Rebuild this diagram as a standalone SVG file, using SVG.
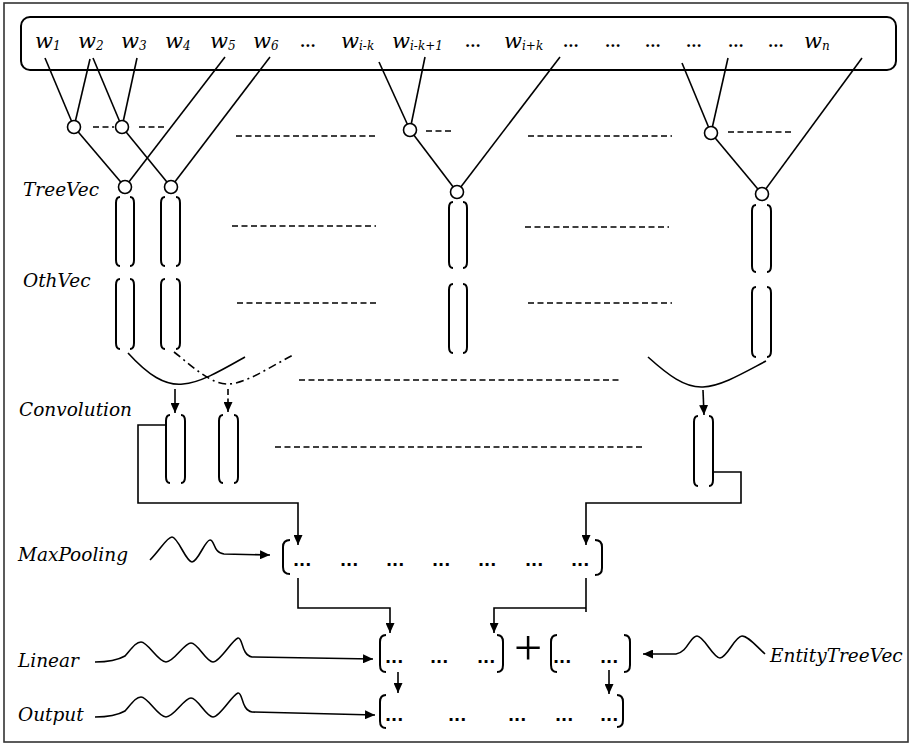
<svg xmlns="http://www.w3.org/2000/svg" width="910" height="746" viewBox="0 0 910 746">
<defs>
<style>
.ln{fill:none;stroke:#000;stroke-width:1.6}
.br{fill:none;stroke:#000;stroke-width:2}
.ds{fill:none;stroke:#000;stroke-width:1.6;stroke-dasharray:6 3.5}
.dd{fill:none;stroke:#000;stroke-width:1.6;stroke-dasharray:8 4 2 4}
.nd{fill:#fff;stroke:#000;stroke-width:1.6}
.lb{font-family:"DejaVu Serif",serif;font-style:italic;font-size:18.5px;fill:#000}
.w{font-family:"DejaVu Serif",serif;font-style:italic;font-size:21px;fill:#000}
.sub{font-size:12px}
.dt{font-family:"DejaVu Serif",serif;font-weight:bold;font-size:15px;fill:#000}
.bd{font-family:"DejaVu Sans",sans-serif;font-weight:bold;font-size:16px;fill:#000}
</style>
<marker id="ah" viewBox="0 0 10 9" refX="10" refY="4.5" markerWidth="10" markerHeight="9" markerUnits="userSpaceOnUse" orient="auto">
<path d="M0,0 L10,4.5 L0,9 z" fill="#000"/>
</marker>
</defs>
<rect x="4" y="3" width="904" height="739" fill="#fff" stroke="#333" stroke-width="1.6"/>

<g id="connectors">
<path class="ln" d="M45,58 L74,127"/>
<path class="ln" d="M90,59 L74,127"/>
<path class="ln" d="M93,58 L122,127"/>
<path class="ln" d="M137,58 L122,127"/>
<path class="ln" d="M225,57 L125,187"/>
<path class="ln" d="M270,57 L171,187"/>
<path class="ln" d="M74,127 L125,187"/>
<path class="ln" d="M122,127 L171,187"/>
<path class="ln" d="M379,62 L410,130"/>
<path class="ln" d="M425,57 L410,130"/>
<path class="ln" d="M560,57 L457,192"/>
<path class="ln" d="M410,130 L457,192"/>
<path class="ln" d="M682,63 L711,133"/>
<path class="ln" d="M728,58 L711,133"/>
<path class="ln" d="M862,58 L762,194"/>
<path class="ln" d="M711,133 L762,194"/>
<path class="ds" d="M93,127 H114"/>
<path class="ds" d="M139,127 H164"/>
<path class="ds" d="M426,131 H452"/>
<path class="ds" d="M728,132 H791"/>
<path class="ds" d="M236,136 H378"/>
<path class="ds" d="M528,136 H672"/>
<path class="ds" d="M232,226 H376"/>
<path class="ds" d="M525,227 H669"/>
<path class="ds" d="M237,303 H377"/>
<path class="ds" d="M528,303 H672"/>
<path class="ds" d="M299,380 H622"/>
<path class="ds" d="M275,447 H643"/>
<path class="ln" d="M128,353 C148,375 165,386 183,384 C200,383 222,370 245,357"/>
<path class="dd" d="M174,352 C192,366 210,384 228,384 C245,384 270,367 293,355"/>
<path class="ln" d="M648,357 C668,375 685,388 703,387 C722,386 745,372 766,361"/>
<path class="ln" d="M175,389 V413" marker-end="url(#ah)"/>
<path class="ds" d="M228,389 V412" marker-end="url(#ah)"/>
<path class="ln" d="M703,390 L704,415" marker-end="url(#ah)"/>
<path class="ln" d="M166,425 H138 V503 H298 V545" marker-end="url(#ah)"/>
<path class="ln" d="M713,472 H741 V503 H586 V545" marker-end="url(#ah)"/>
<path class="ln" d="M298,578 V608 H390 V633" marker-end="url(#ah)"/>
<path class="ln" d="M586,578 V612"/>
<path class="ln" d="M586,608 H494 V633" marker-end="url(#ah)"/>
<path class="ln" d="M398,672 V693" marker-end="url(#ah)"/>
<path class="ln" d="M609,670 V694" marker-end="url(#ah)"/>
<path class="ln" d="M150,560 C160,550 167,537 172,537 C178,537 186,562 192,562 C198,562 205,540 210,540 C215,540 213,553 224,554 L270,555" marker-end="url(#ah)"/>
<path class="ln" d="M95,662 C110,662 118,660 125,656 C132,648 136,642 141,642 C148,642 158,662 166,662 C174,662 184,643 191,643 C198,643 206,662 213,662 C220,662 232,640 238,638 C243,637 241,655 252,657 L373,659" marker-end="url(#ah)"/>
<path class="ln" d="M95,717 C110,717 118,715 125,711 C132,703 136,697 141,697 C148,697 158,717 166,717 C174,717 184,698 191,698 C198,698 206,717 213,717 C220,717 232,695 238,693 C243,692 241,710 252,712 L375,715" marker-end="url(#ah)"/>
<path class="ln" d="M765,654 C755,645 748,636 742,636 C735,636 727,658 720,658 C713,658 704,636 697,636 C690,636 688,652 676,654 L643,654" marker-end="url(#ah)"/>
</g>

<g id="words">
<rect x="21" y="17" width="875" height="53" rx="9" ry="9" fill="none" stroke="#000" stroke-width="2"/>
<text class="w" x="35" y="48">w<tspan class="sub" dy="2">1</tspan></text>
<text class="w" x="78" y="48">w<tspan class="sub" dy="2">2</tspan></text>
<text class="w" x="121" y="48">w<tspan class="sub" dy="2">3</tspan></text>
<text class="w" x="165" y="48">w<tspan class="sub" dy="2">4</tspan></text>
<text class="w" x="210" y="48">w<tspan class="sub" dy="2">5</tspan></text>
<text class="w" x="253" y="48">w<tspan class="sub" dy="2">6</tspan></text>
<text class="dt" x="300" y="47">...</text>
<text class="w" x="341" y="48">w<tspan class="sub" dy="2">i-k</tspan></text>
<text class="w" x="392" y="48">w<tspan class="sub" dy="2">i-k+1</tspan></text>
<text class="dt" x="465" y="47">...</text>
<text class="w" x="504" y="48">w<tspan class="sub" dy="2">i+k</tspan></text>
<text class="dt" x="563" y="47">...</text>
<text class="dt" x="605" y="47">...</text>
<text class="dt" x="645" y="47">...</text>
<text class="dt" x="686" y="47">...</text>
<text class="dt" x="728" y="47">...</text>
<text class="dt" x="768" y="47">...</text>
<text class="w" x="804" y="48">w<tspan class="sub" dy="2">n</tspan></text>
</g>

<g id="tree-nodes">
<circle class="nd" cx="74" cy="127" r="6.5"/>
<circle class="nd" cx="122" cy="127" r="6.5"/>
<circle class="nd" cx="125" cy="187" r="6.5"/>
<circle class="nd" cx="171" cy="187" r="6.5"/>
<circle class="nd" cx="410" cy="130" r="6.5"/>
<circle class="nd" cx="457" cy="192" r="6.5"/>
<circle class="nd" cx="711" cy="133" r="6.5"/>
<circle class="nd" cx="762" cy="194" r="6.5"/>
</g>

<g id="treevec">
<text class="lb" x="23" y="196">TreeVec</text>
<path class="br" d="M120,197 Q116,197 116,203 V260 Q116,266 120,266 M130,197 Q134,197 134,203 V260 Q134,266 130,266"/>
<path class="br" d="M165,197 Q161,197 161,203 V260 Q161,266 165,266 M176,197 Q180,197 180,203 V260 Q180,266 176,266"/>
<path class="br" d="M453,202 Q449,202 449,208 V262 Q449,268 453,268 M463,202 Q467,202 467,208 V262 Q467,268 463,268"/>
<path class="br" d="M756,205 Q752,205 752,211 V266 Q752,272 756,272 M767,205 Q771,205 771,211 V266 Q771,272 767,272"/>
</g>

<g id="othvec">
<text class="lb" x="23" y="287">OthVec</text>
<path class="br" d="M120,279 Q116,279 116,285 V343 Q116,349 120,349 M130,279 Q134,279 134,285 V343 Q134,349 130,349"/>
<path class="br" d="M165,279 Q161,279 161,285 V343 Q161,349 165,349 M176,279 Q180,279 180,285 V343 Q180,349 176,349"/>
<path class="br" d="M453,284 Q449,284 449,290 V347 Q449,353 453,353 M463,284 Q467,284 467,290 V347 Q467,353 463,353"/>
<path class="br" d="M756,287 Q752,287 752,293 V351 Q752,357 756,357 M767,287 Q771,287 771,293 V351 Q771,357 767,357"/>
</g>

<g id="convolution">
<text class="lb" x="19" y="416">Convolution</text>
<path class="br" d="M170,415 Q166,415 166,421 V477 Q166,483 170,483 M181,415 Q185,415 185,421 V477 Q185,483 181,483"/>
<path class="br" d="M223,415 Q219,415 219,421 V477 Q219,483 223,483 M234,415 Q238,415 238,421 V477 Q238,483 234,483"/>
<path class="br" d="M698,416 Q694,416 694,422 V480 Q694,486 698,486 M709,416 Q713,416 713,422 V480 Q713,486 709,486"/>
</g>

<g id="maxpooling">
<text class="lb" x="18" y="561">MaxPooling</text>
<path class="br" d="M290,540 Q283,540 283,547 V567 Q283,574 290,574"/>
<path class="br" d="M595,540 Q602,540 602,547 V568 Q602,575 595,575"/>
<text class="bd" x="293" y="566">...</text>
<text class="bd" x="340" y="566">...</text>
<text class="bd" x="386" y="566">...</text>
<text class="bd" x="432" y="566">...</text>
<text class="bd" x="478" y="566">...</text>
<text class="bd" x="525" y="566">...</text>
<text class="bd" x="571" y="566">...</text>
</g>

<g id="linear">
<text class="lb" x="18" y="667">Linear</text>
<path class="br" d="M386,635 Q380,635 380,642 V665 Q380,672 386,672"/>
<path class="br" d="M497,635 Q503,635 503,642 V665 Q503,672 497,672"/>
<text class="bd" x="385" y="663">...</text>
<text class="bd" x="430" y="663">...</text>
<text class="bd" x="477" y="663">...</text>
<text x="528" y="665" text-anchor="middle" font-family="Liberation Serif, serif" font-size="50" fill="#000">+</text>
</g>

<g id="entitytreevec">
<path class="br" d="M557,635 Q551,635 551,642 V665 Q551,672 557,672"/>
<path class="br" d="M624,635 Q630,635 630,642 V665 Q630,672 624,672"/>
<text class="bd" x="553" y="663">...</text>
<text class="bd" x="600" y="663">...</text>
<text class="lb" x="770" y="662">EntityTreeVec</text>
</g>

<g id="output">
<text class="lb" x="18" y="721">Output</text>
<path class="br" d="M386,695 Q380,695 380,702 V721 Q380,728 386,728"/>
<path class="br" d="M617,695 Q623,695 623,702 V720 Q623,727 617,727"/>
<text class="bd" x="385" y="721">...</text>
<text class="bd" x="448" y="721">...</text>
<text class="bd" x="508" y="721">...</text>
<text class="bd" x="555" y="721">...</text>
<text class="bd" x="600" y="721">...</text>
</g>
</svg>
